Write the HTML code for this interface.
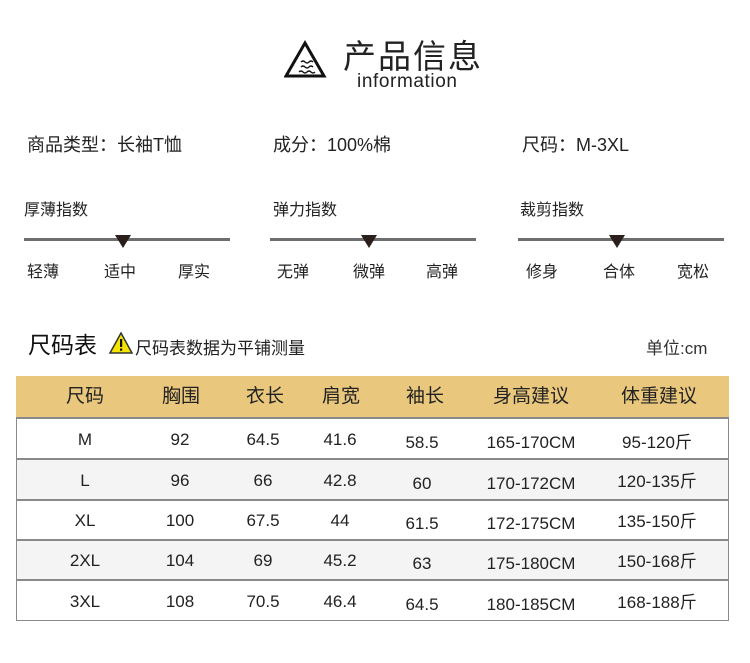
<!DOCTYPE html>
<html><head><meta charset="utf-8"><style>
body{margin:0;width:750px;height:663px;background:#fff;position:relative;overflow:hidden;font-family:"Liberation Sans","Noto Sans CJK SC",sans-serif;color:#222}
.a{position:absolute;white-space:nowrap}
.c{position:absolute;transform:translateX(-50%);white-space:nowrap;line-height:20px;top:0}
.line{position:absolute;height:3px;background:#6e6e6e}
.tri{position:absolute;width:0;height:0;border-left:8px solid transparent;border-right:8px solid transparent;border-top:13px solid #2a1f1a}
.r{position:absolute;left:0;font-size:17px;line-height:20px}
</style></head><body>
<svg class="a" style="left:284px;top:40px" width="46" height="40" viewBox="0 0 46 40">
<polygon points="21,3 40,36 2,36" fill="none" stroke="#111" stroke-width="3"/>
<path d="M17,22 q2,-2 4,0 t4,0 t4,0 M17,27 q2,-2 4,0 t4,0 t4,0 M15,32 q2,-2 4,0 t4,0 t4,0 t4,0" fill="none" stroke="#111" stroke-width="1.3"/>
</svg>
<div class="a" style="left:343px;top:30px;font-size:33px;letter-spacing:2px;color:#222">产品信息</div>
<div class="a" style="left:357px;top:70px;font-size:19px;line-height:24px;letter-spacing:0.6px;color:#222">information</div>

<div class="a" style="left:27px;top:131px;font-size:18px">商品类型：长袖T恤</div>
<div class="a" style="left:273px;top:131px;font-size:18px">成分：100%棉</div>
<div class="a" style="left:522px;top:131px;font-size:18px">尺码：M-3XL</div>

<div class="a" style="left:24px;top:196px;font-size:16px">厚薄指数</div>
<div class="a" style="left:273px;top:196px;font-size:16px">弹力指数</div>
<div class="a" style="left:520px;top:196px;font-size:16px">裁剪指数</div>
<div class="line" style="left:24px;top:238px;width:206px"></div>
<div class="line" style="left:270px;top:238px;width:206px"></div>
<div class="line" style="left:518px;top:238px;width:206px"></div>
<div class="tri" style="left:115px;top:235px"></div>
<div class="tri" style="left:361px;top:235px"></div>
<div class="tri" style="left:609px;top:235px"></div>
<div class="a" style="left:27px;top:258px;font-size:16px">轻薄</div>
<div class="a" style="left:104px;top:258px;font-size:16px">适中</div>
<div class="a" style="left:178px;top:258px;font-size:16px">厚实</div>
<div class="a" style="left:277px;top:258px;font-size:16px">无弹</div>
<div class="a" style="left:353px;top:258px;font-size:16px">微弹</div>
<div class="a" style="left:426px;top:258px;font-size:16px">高弹</div>
<div class="a" style="left:526px;top:258px;font-size:16px">修身</div>
<div class="a" style="left:603px;top:258px;font-size:16px">合体</div>
<div class="a" style="left:677px;top:258px;font-size:16px">宽松</div>

<div class="a" style="left:28px;top:326px;font-size:23px;color:#111">尺码表</div>
<svg class="a" style="left:109px;top:332px" width="24" height="22" viewBox="0 0 24 22"><polygon points="12,1 23,21 1,21" fill="#f5e400" stroke="#333" stroke-width="1.5"/><rect x="11" y="7" width="2.2" height="8" fill="#111"/><rect x="11" y="16.5" width="2.2" height="2.2" fill="#111"/></svg>
<div class="a" style="left:135px;top:334px;font-size:17px">尺码表数据为平铺测量</div>
<div class="a" style="left:646px;top:334px;font-size:17px;color:#333">单位:cm</div>

<div class="a" style="left:16px;top:376px;width:713px;height:41px;background:#e9c77c"></div>
<div class="a" style="left:16px;top:417px;width:711px;height:201px;border:1px solid #8a8a8a;border-top:2px solid #8a8a8a"></div>
<div class="a" style="left:17px;top:458px;width:711px;height:39px;background:#f4f4f4;border-top:2px solid #8a8a8a;border-bottom:2px solid #8a8a8a"></div>
<div class="a" style="left:17px;top:539px;width:711px;height:38px;background:#f4f4f4;border-top:2px solid #8a8a8a;border-bottom:2px solid #8a8a8a"></div>

<div class="r" style="top:387px;font-size:19px">
<span class="c" style="left:85px">尺码</span><span class="c" style="left:181px">胸围</span><span class="c" style="left:265px">衣长</span><span class="c" style="left:341px">肩宽</span><span class="c" style="left:425px">袖长</span><span class="c" style="left:531px">身高建议</span><span class="c" style="left:659px">体重建议</span>
</div>
<div class="r" style="top:430px">
<span class="c" style="left:85px">M</span><span class="c" style="left:180px">92</span><span class="c" style="left:263px">64.5</span><span class="c" style="left:340px">41.6</span><span class="c" style="left:422px;top:3px">58.5</span><span class="c" style="left:531px;top:3px">165-170CM</span><span class="c" style="left:657px;top:3px">95-120斤</span>
</div>
<div class="r" style="top:471px">
<span class="c" style="left:85px">L</span><span class="c" style="left:180px">96</span><span class="c" style="left:263px">66</span><span class="c" style="left:340px">42.8</span><span class="c" style="left:422px;top:3px">60</span><span class="c" style="left:531px;top:3px">170-172CM</span><span class="c" style="left:657px;top:1px">120-135斤</span>
</div>
<div class="r" style="top:511px">
<span class="c" style="left:85px">XL</span><span class="c" style="left:180px">100</span><span class="c" style="left:263px">67.5</span><span class="c" style="left:340px">44</span><span class="c" style="left:422px;top:3px">61.5</span><span class="c" style="left:531px;top:3px">172-175CM</span><span class="c" style="left:657px;top:1px">135-150斤</span>
</div>
<div class="r" style="top:551px">
<span class="c" style="left:85px">2XL</span><span class="c" style="left:180px">104</span><span class="c" style="left:263px">69</span><span class="c" style="left:340px">45.2</span><span class="c" style="left:422px;top:3px">63</span><span class="c" style="left:531px;top:3px">175-180CM</span><span class="c" style="left:657px;top:1px">150-168斤</span>
</div>
<div class="r" style="top:592px">
<span class="c" style="left:85px">3XL</span><span class="c" style="left:180px">108</span><span class="c" style="left:263px">70.5</span><span class="c" style="left:340px">46.4</span><span class="c" style="left:422px;top:3px">64.5</span><span class="c" style="left:531px;top:3px">180-185CM</span><span class="c" style="left:657px;top:1px">168-188斤</span>
</div>
</body></html>
